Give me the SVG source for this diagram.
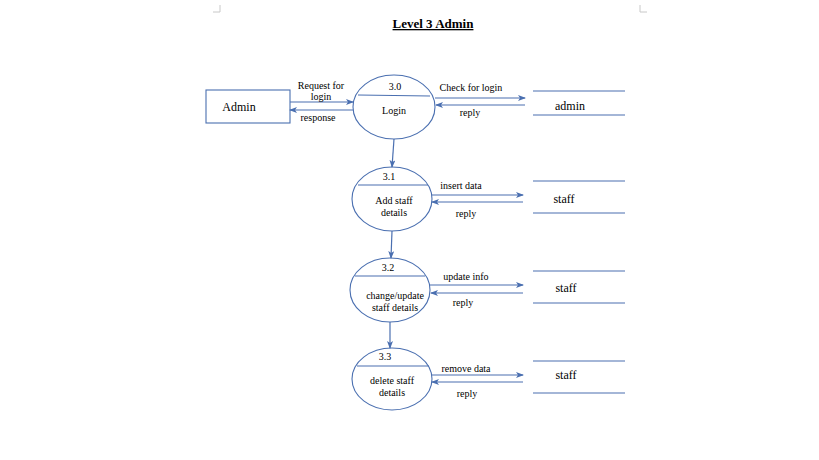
<svg xmlns="http://www.w3.org/2000/svg" width="819" height="460" viewBox="0 0 819 460">
<defs>
<marker id="ah" markerWidth="8" markerHeight="6" refX="7" refY="3" orient="auto" markerUnits="userSpaceOnUse">
<path d="M0,0 L8,3 L0,6 L2,3 Z" fill="#4a6fb0"/>
</marker>
<style>
.ln{stroke:#4a6fb0;stroke-width:1.2;fill:none}
.arr{stroke:#4a6fb0;stroke-width:1.2;fill:none;marker-end:url(#ah)}
.el{stroke:#4a6fb0;stroke-width:1.1;fill:#fff}
.st{stroke:#4a6fb0;stroke-width:1.1}
.t{font-family:"Liberation Serif",serif;font-size:10px;fill:#000;text-anchor:middle}
.t2{font-family:"Liberation Serif",serif;font-size:12px;fill:#000;text-anchor:middle}
.crn{stroke:#c8c8c8;stroke-width:1;fill:none}
</style>
</defs>
<rect width="819" height="460" fill="#fff"/>
<path class="crn" d="M213,12 H220 V5"/>
<path class="crn" d="M640,5 V12 H647"/>
<text x="433" y="28" font-family="Liberation Serif,serif" font-size="13" font-weight="bold" text-anchor="middle" text-decoration="underline">Level 3 Admin</text>

<g id="admin-entity">
<rect x="206" y="90" width="84" height="33" fill="#fff" stroke="#4a6fb0" stroke-width="1.1"/>
<text class="t2" x="239" y="111" font-size="13">Admin</text>
</g>

<g id="p30">
<ellipse class="el" cx="394" cy="107" rx="41" ry="32"/>
<line class="st" x1="358" y1="95" x2="430" y2="96"/>
<text class="t" x="395" y="90">3.0</text>
<text class="t" x="394" y="114">Login</text>
</g>

<g id="store-admin">
<line class="st" x1="533" y1="91" x2="625" y2="91"/>
<line class="st" x1="533" y1="115" x2="625" y2="115"/>
<text class="t2" x="570" y="110">admin</text>
</g>

<g id="p31">
<ellipse class="el" cx="392" cy="199" rx="40" ry="32"/>
<line class="st" x1="358" y1="185" x2="428" y2="185"/>
<text class="t" x="389" y="180">3.1</text>
<text class="t" x="394" y="204">Add staff</text>
<text class="t" x="394" y="216">details</text>
</g>

<g id="store-staff1">
<line class="st" x1="533" y1="181" x2="625" y2="181"/>
<line class="st" x1="533" y1="213" x2="625" y2="213"/>
<text class="t2" x="564" y="203">staff</text>
</g>

<g id="p32">
<ellipse class="el" cx="390" cy="290" rx="40" ry="32"/>
<line class="st" x1="355" y1="276" x2="425" y2="276"/>
<text class="t" x="388" y="271">3.2</text>
<text class="t" x="395" y="299">change/update</text>
<text class="t" x="395" y="311">staff details</text>
</g>

<g id="store-staff2">
<line class="st" x1="533" y1="271" x2="625" y2="271"/>
<line class="st" x1="533" y1="303" x2="625" y2="303"/>
<text class="t2" x="566" y="292">staff</text>
</g>

<g id="p33">
<ellipse class="el" cx="392" cy="379" rx="40" ry="31"/>
<line class="st" x1="357" y1="366" x2="429" y2="366"/>
<text class="t" x="385" y="360">3.3</text>
<text class="t" x="392" y="384">delete staff</text>
<text class="t" x="392" y="396">details</text>
</g>

<g id="store-staff3">
<line class="st" x1="533" y1="361" x2="625" y2="361"/>
<line class="st" x1="533" y1="393" x2="625" y2="393"/>
<text class="t2" x="566" y="379">staff</text>
</g>

<g id="connectors">
<line class="arr" x1="290" y1="102" x2="353" y2="102"/>
<line class="arr" x1="353" y1="110" x2="290" y2="110"/>
<text class="t" x="321" y="89">Request for</text>
<text class="t" x="321" y="100">login</text>
<text class="t" x="318" y="121">response</text>

<line class="arr" x1="435" y1="98" x2="525" y2="98"/>
<line class="arr" x1="525" y1="105" x2="436" y2="105"/>
<text class="t" x="471" y="91">Check for login</text>
<text class="t" x="470" y="116">reply</text>

<line class="arr" x1="394" y1="139" x2="392" y2="167"/>

<line class="arr" x1="432" y1="195" x2="523" y2="195"/>
<line class="arr" x1="523" y1="202" x2="432" y2="202"/>
<text class="t" x="461" y="189">insert data</text>
<text class="t" x="466" y="217">reply</text>

<line class="arr" x1="392" y1="231" x2="391" y2="258"/>

<line class="arr" x1="430" y1="285" x2="523" y2="285"/>
<line class="arr" x1="523" y1="293" x2="431" y2="293"/>
<text class="t" x="466" y="280">update info</text>
<text class="t" x="463" y="306">reply</text>

<line class="arr" x1="390" y1="322" x2="390" y2="348"/>

<line class="arr" x1="432" y1="375" x2="523" y2="375"/>
<line class="arr" x1="523" y1="382" x2="432" y2="382"/>
<text class="t" x="466" y="372">remove data</text>
<text class="t" x="467" y="397">reply</text>
</g>
</svg>
